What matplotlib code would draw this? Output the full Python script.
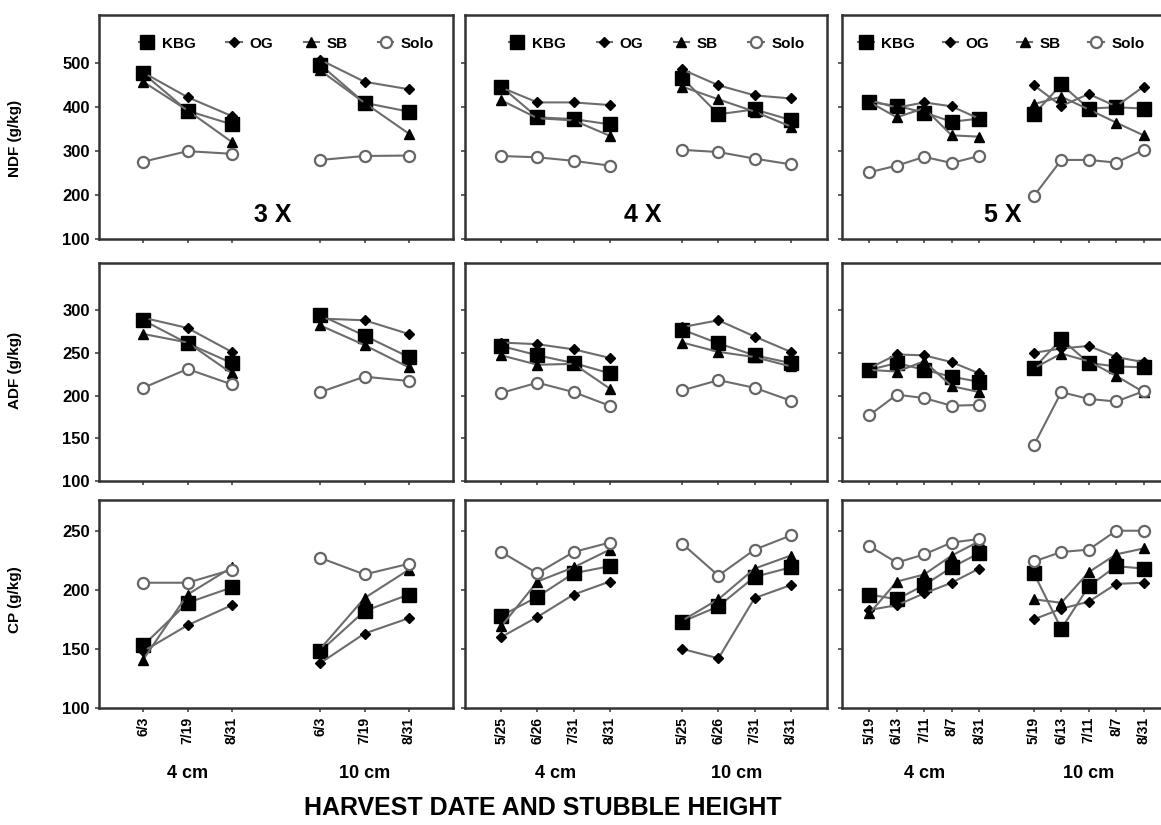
#!/usr/bin/env python3
import matplotlib
matplotlib.use('Agg')

import matplotlib.pyplot as plt
import matplotlib.transforms as mtransforms
import numpy as np

plt.rcParams['font.family'] = ['Liberation Sans', 'DejaVu Sans']

SPECIES = ['KBG', 'OG', 'SB', 'Solo']
HEIGHTS = ['4 cm', '10 cm']
FREQS = ['3 X', '4 X', '5 X']

dates_3x = ['6/3', '7/19', '8/31']
dates_4x = ['5/25', '6/26', '7/31', '8/31']
dates_5x = ['5/19', '6/13', '7/11', '8/7', '8/31']

# each list: 4 cm dates first, then 10 cm dates
ndf_3x = {'KBG': [477, 392, 361, 497, 410, 390],
          'OG': [479, 423, 380, 508, 458, 441],
          'SB': [458, 393, 321, 484, 410, 340],
          'Solo': [276, 300, 294, 280, 289, 290]}
ndf_4x = {'KBG': [447, 377, 373, 361, 467, 384, 395, 371],
          'OG': [445, 411, 411, 405, 486, 450, 427, 420],
          'SB': [416, 375, 370, 335, 447, 418, 390, 356],
          'Solo': [289, 286, 278, 267, 303, 298, 283, 270]}
ndf_5x = {'KBG': [412, 403, 388, 367, 374, 384, 452, 397, 400, 397],
          'OG': [416, 399, 411, 402, 374, 450, 403, 430, 402, 447],
          'SB': [412, 377, 398, 336, 333, 407, 424, 395, 365, 336],
          'Solo': [252, 267, 287, 273, 289, 198, 280, 280, 274, 303]}

adf_3x = {'KBG': [288, 261, 238, 294, 270, 245],
          'OG': [291, 279, 251, 290, 288, 272],
          'SB': [272, 262, 226, 282, 259, 233],
          'Solo': [209, 231, 213, 204, 222, 217]}
adf_4x = {'KBG': [258, 247, 238, 226, 277, 261, 247, 238],
          'OG': [262, 260, 254, 244, 280, 288, 269, 251],
          'SB': [247, 236, 237, 208, 262, 251, 245, 234],
          'Solo': [203, 215, 204, 188, 206, 218, 209, 194]}
adf_5x = {'KBG': [230, 238, 230, 222, 216, 232, 266, 238, 234, 233],
          'OG': [232, 248, 247, 239, 226, 250, 255, 258, 245, 239],
          'SB': [230, 228, 240, 211, 204, 232, 249, 240, 223, 204],
          'Solo': [177, 201, 197, 188, 189, 142, 204, 196, 193, 205]}

cp_3x = {'KBG': [153, 189, 202, 148, 182, 196],
         'OG': [148, 170, 187, 138, 163, 176],
         'SB': [141, 196, 219, 150, 193, 217],
         'Solo': [206, 206, 217, 227, 213, 222]}
cp_4x = {'KBG': [178, 194, 214, 220, 173, 186, 211, 219],
         'OG': [160, 177, 196, 207, 150, 142, 193, 204],
         'SB': [169, 207, 219, 234, 174, 192, 218, 229],
         'Solo': [232, 214, 232, 240, 239, 212, 234, 246]}
cp_5x = {'KBG': [196, 192, 204, 219, 231, 214, 167, 203, 220, 218],
         'OG': [183, 187, 197, 206, 218, 175, 184, 190, 205, 206],
         'SB': [180, 207, 213, 229, 241, 192, 189, 215, 230, 235],
         'Solo': [237, 223, 230, 240, 243, 224, 232, 234, 250, 250]}

ROWS = [('NDF (g/kg)', [ndf_3x, ndf_4x, ndf_5x], (100, 610), [100, 200, 300, 400, 500]),
        ('ADF (g/kg)', [adf_3x, adf_4x, adf_5x], (100, 355), [100, 150, 200, 250, 300]),
        ('CP (g/kg)', [cp_3x, cp_4x, cp_5x], (100, 276), [100, 150, 200, 250])]
DATES = [dates_3x, dates_4x, dates_5x]

LINE = '#6c6c6c'
STYLE = {'KBG': dict(marker='s', ms=9.5, mfc='black', mec='black'),
         'OG': dict(marker='D', ms=5.5, mfc='black', mec='black'),
         'SB': dict(marker='^', ms=7.5, mfc='black', mec='black'),
         'Solo': dict(marker='o', ms=8, mfc='white', mec='#666666', mew=1.6)}

W, H = 1161, 825
col_px = [(99, 453), (465, 827), (842, 1171)]
row_px = [(15, 239), (263, 481), (500, 708)]
ylab_y = [138, 370, 600]
legend_x = [0.53, 0.53, 0.485]

fig = plt.figure(figsize=(W / 100, H / 100), dpi=100)

for r, (ylabel, panels, ylim, yticks) in enumerate(ROWS):
    top, bot = row_px[r]
    for c, (left, right) in enumerate(col_px):
        ax = fig.add_axes([left / W, 1 - bot / H, (right - left) / W, (bot - top) / H])
        dates = DATES[c]
        vals = panels[c]
        n = len(dates)
        xs_all = []
        for s in SPECIES:
            for g in range(2):
                xs = np.arange(1, n + 1) + g * (n + 1)
                ax.plot(xs, vals[s][g * n:(g + 1) * n], color=LINE, lw=1.5,
                        label=s if g == 0 else None, **STYLE[s])
        for g in range(2):
            xs_all.extend(list(np.arange(1, n + 1) + g * (n + 1)))
        ax.set_xlim(0, 2 * n + 2)
        ax.set_ylim(*ylim)
        ax.set_xticks(xs_all)
        ax.set_yticks(yticks)
        for sp in ax.spines.values():
            sp.set_linewidth(1.8)
            sp.set_color('#333333')
        ax.tick_params(direction='out', length=3, width=1.2, color='#444444')
        if c == 0:
            ax.set_yticklabels([str(t) for t in yticks], fontsize=12, fontweight='bold')
        else:
            ax.set_yticklabels([])
        if r == 2:
            ax.set_xticklabels(dates * 2, rotation=90, fontsize=10, fontweight='bold')
            trans = mtransforms.blended_transform_factory(ax.transData, fig.transFigure)
            for g, hl in enumerate(HEIGHTS):
                ax.text((n + 1) / 2 + g * (n + 1), 1 - 773 / H, hl, transform=trans,
                        ha='center', va='center', fontsize=13, fontweight='bold')
        else:
            ax.set_xticklabels([])
        if r == 0:
            ax.legend(loc='upper center', bbox_to_anchor=(legend_x[c], 0.965), ncol=4,
                      frameon=False, handlelength=1.0, handletextpad=0.5,
                      columnspacing=2.0 if c < 2 else 1.8,
                      prop={'weight': 'bold', 'size': 11})
            ax.text(0.49, 0.107, FREQS[c], transform=ax.transAxes, ha='center',
                    va='center', fontsize=18, fontweight='bold')
    fig.text(15 / W, 1 - ylab_y[r] / H, ylabel, rotation=90, ha='center', va='center',
             fontsize=11, fontweight='bold')

fig.text(543 / W, 1 - 808 / H, 'HARVEST DATE AND STUBBLE HEIGHT', ha='center',
         va='center', fontsize=18, fontweight='bold')

plt.savefig('out.png', dpi=100)
